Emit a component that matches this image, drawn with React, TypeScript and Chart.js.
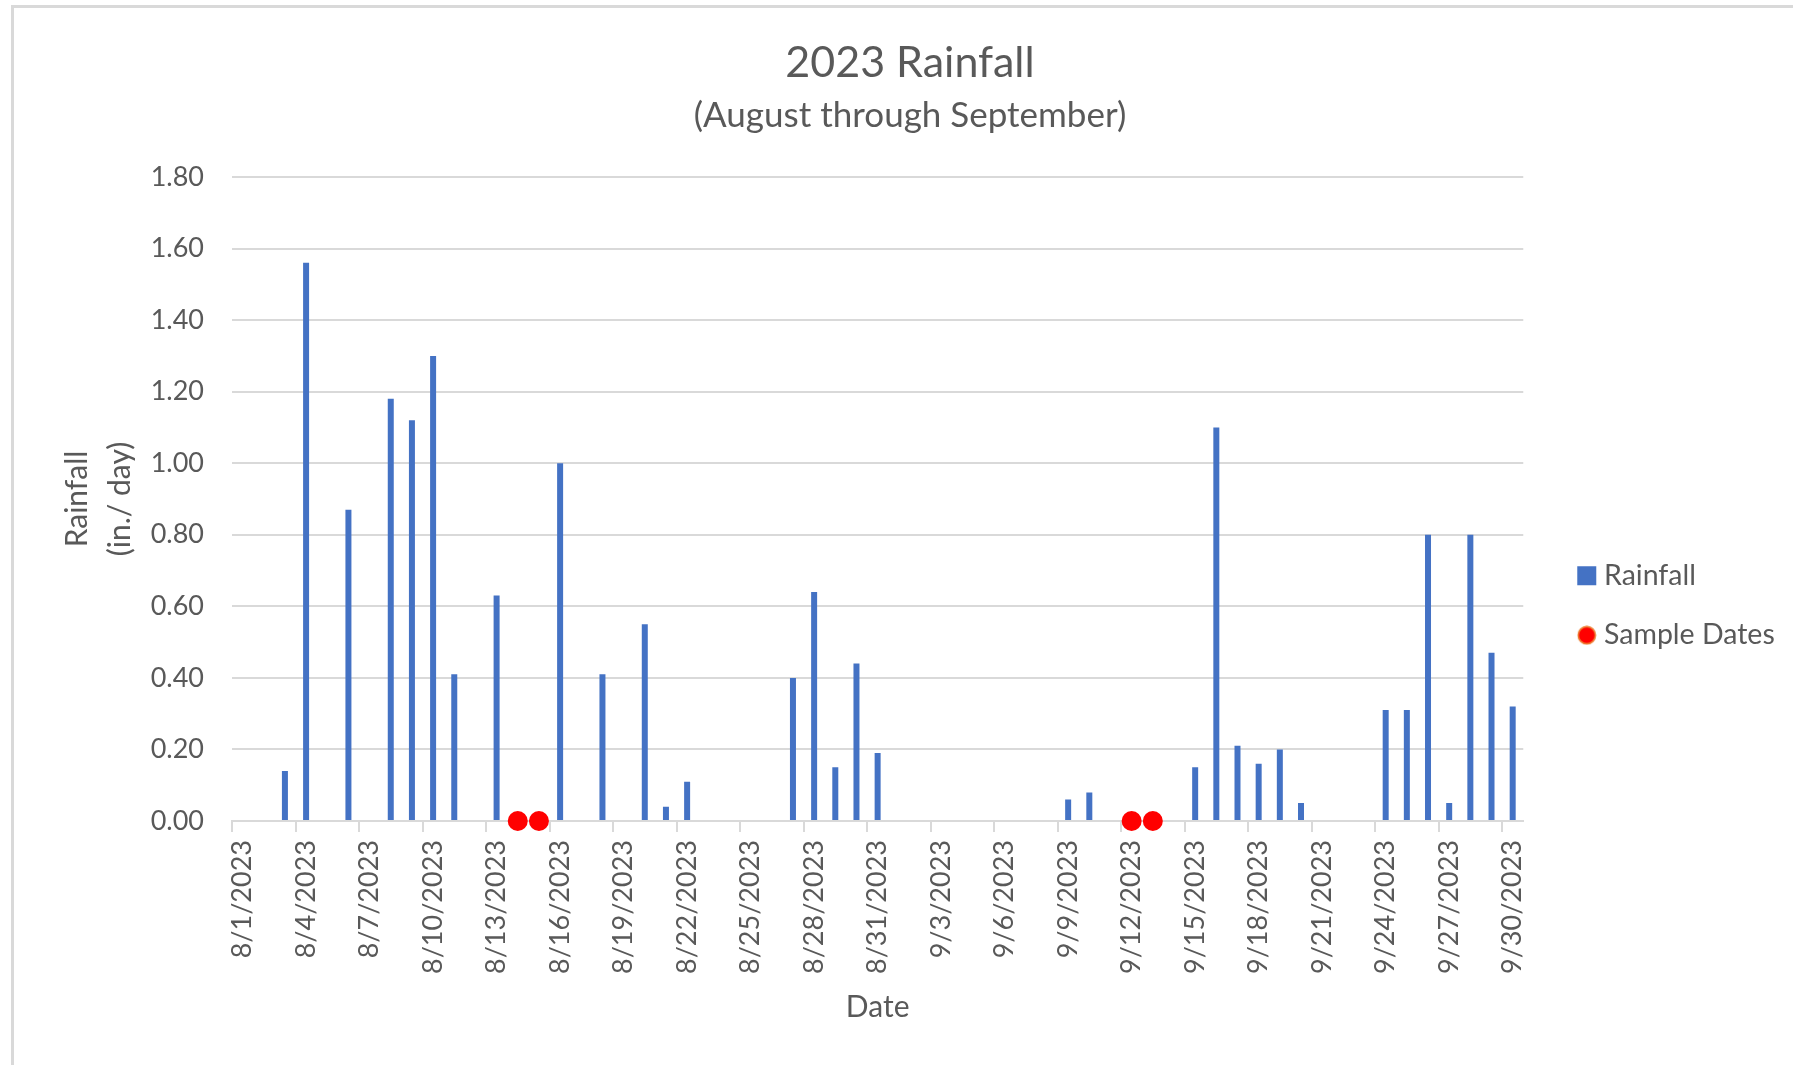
import { useEffect, useRef } from 'react';
import { Chart, registerables } from 'chart.js';

Chart.register(...registerables);

const categories = [
  '8/1/2023', '8/2/2023', '8/3/2023', '8/4/2023', '8/5/2023', '8/6/2023', '8/7/2023', '8/8/2023',
  '8/9/2023', '8/10/2023', '8/11/2023', '8/12/2023', '8/13/2023', '8/14/2023', '8/15/2023', '8/16/2023',
  '8/17/2023', '8/18/2023', '8/19/2023', '8/20/2023', '8/21/2023', '8/22/2023', '8/23/2023', '8/24/2023',
  '8/25/2023', '8/26/2023', '8/27/2023', '8/28/2023', '8/29/2023', '8/30/2023', '8/31/2023',
  '9/1/2023', '9/2/2023', '9/3/2023', '9/4/2023', '9/5/2023', '9/6/2023', '9/7/2023', '9/8/2023',
  '9/9/2023', '9/10/2023', '9/11/2023', '9/12/2023', '9/13/2023', '9/14/2023', '9/15/2023', '9/16/2023',
  '9/17/2023', '9/18/2023', '9/19/2023', '9/20/2023', '9/21/2023', '9/22/2023', '9/23/2023', '9/24/2023',
  '9/25/2023', '9/26/2023', '9/27/2023', '9/28/2023', '9/29/2023', '9/30/2023',
];

// inches per day, one per category
const rainfall = [
  0, 0, 0.14, 1.56, 0, 0.87, 0, 1.18,
  1.12, 1.30, 0.41, 0, 0.63, 0, 0, 1.00,
  0, 0.41, 0, 0.55, 0.04, 0.11, 0, 0,
  0, 0, 0.40, 0.64, 0.15, 0.44, 0.19,
  0, 0, 0, 0, 0, 0, 0, 0,
  0.06, 0.08, 0, 0, 0, 0, 0.15, 1.10,
  0.21, 0.16, 0.20, 0.05, 0, 0, 0, 0.31,
  0.31, 0.80, 0.05, 0.80, 0.47, 0.32,
];

// sample dates shown as markers on the zero line
const sampleDates = [
  null, null, null, null, null, null, null, null,
  null, null, null, null, null, 0, 0, null,
  null, null, null, null, null, null, null, null,
  null, null, null, null, null, null, null,
  null, null, null, null, null, null, null, null,
  null, null, null, 0, 0, null, null, null,
  null, null, null, null, null, null, null, null,
  null, null, null, null, null, null,
];

const seriesNames = ['Rainfall', 'Sample Dates'];

const TEXT = '#595959';
const GRID = '#D9D9D9';
const BAR = '#4472C4';
const DOT = '#FF0000';
const FONT = 'Lato';

export default function App() {
  const ref = useRef<HTMLCanvasElement>(null);

  useEffect(() => {
    const canvas = ref.current;
    if (!canvas) return;

    const marker = document.createElement('canvas');
    marker.width = 20;
    marker.height = 20;
    const mctx = marker.getContext('2d');
    if (mctx) {
      mctx.beginPath();
      mctx.arc(10, 10, 8.6, 0, Math.PI * 2);
      mctx.fillStyle = DOT;
      mctx.fill();
      mctx.lineWidth = 1.6;
      mctx.strokeStyle = '#ED7D31';
      mctx.stroke();
    }

    const chart = new Chart(canvas, {
      type: 'bar',
      data: {
        labels: categories,
        datasets: [
          {
            type: 'bar',
            label: seriesNames[0],
            data: rainfall,
            backgroundColor: BAR,
            borderWidth: 0,
            inflateAmount: 0,
            barThickness: 6,
            order: 1,
            yAxisID: 'y',
          } as any,
          {
            type: 'line',
            label: seriesNames[1],
            data: sampleDates as any,
            showLine: false,
            pointRadius: 10,
            pointHoverRadius: 10,
            pointBackgroundColor: DOT,
            pointBorderColor: DOT,
            pointBorderWidth: 0,
            clip: false as any,
            order: 0,
            yAxisID: 'y',
          },
        ],
      },
      options: {
        responsive: false,
        animation: false,
        devicePixelRatio: 1,
        layout: { padding: { left: 35.25, right: 35.25, top: 0, bottom: 0 } },
        plugins: {
          title: {
            display: true,
            text: '2023 Rainfall',
            color: TEXT,
            font: { family: FONT, size: 43, weight: 'normal', lineHeight: 1.2 },
            padding: { top: 37.4, bottom: 0 },
          },
          subtitle: {
            display: true,
            text: '(August through September)',
            color: TEXT,
            font: { family: FONT, size: 35, weight: 'normal', lineHeight: 1.2 },
            padding: { top: 5.7, bottom: 40.3 },
          },
          legend: {
            position: 'right',
            align: 'start',
            title: {
              display: true,
              text: ' ',
              font: { size: 10, lineHeight: 1 },
              padding: { top: 520.5, bottom: 0 },
            },
            labels: {
              usePointStyle: true,
              boxWidth: 6,
              boxHeight: 19,
              padding: 31,
              color: TEXT,
              font: { family: FONT, size: 28.5 },
              generateLabels: () => [
                {
                  text: seriesNames[0],
                  fillStyle: BAR,
                  strokeStyle: BAR,
                  lineWidth: 0,
                  pointStyle: 'rect',
                  hidden: false,
                  datasetIndex: 0,
                  fontColor: TEXT,
                },
                {
                  text: seriesNames[1],
                  fillStyle: DOT,
                  strokeStyle: DOT,
                  lineWidth: 0,
                  pointStyle: marker as any,
                  hidden: false,
                  datasetIndex: 1,
                  fontColor: TEXT,
                },
              ],
            },
          },
          tooltip: { enabled: false },
        },
        scales: {
          x: {
            type: 'category',
            offset: true,
            grid: {
              offset: true,
              drawOnChartArea: false,
              drawTicks: true,
              tickLength: 11,
              lineWidth: 2,
              color: GRID,
              tickColor: (ctx: any) => (ctx.index % 3 === 0 ? GRID : 'rgba(0,0,0,0)'),
            },
            border: { display: true, color: GRID, width: 2 },
            ticks: {
              autoSkip: false,
              minRotation: 90,
              maxRotation: 90,
              padding: 8,
              color: TEXT,
              font: { family: FONT, size: 27 },
              callback: (_v: any, i: number) => (i % 3 === 0 ? categories[i] : ''),
            },
            title: {
              display: true,
              text: 'Date',
              color: TEXT,
              font: { family: FONT, size: 30, lineHeight: 1.2 },
              padding: { top: 0, bottom: 40 },
            },
            afterFit: (s: any) => {
              s.height = 244;
            },
          },
          y: {
            min: 0,
            max: 1.8,
            ticks: {
              stepSize: 0.2,
              padding: 28,
              color: TEXT,
              font: { family: FONT, size: 27 },
              callback: (v: any) => Number(v).toFixed(2),
            },
            grid: { color: GRID, lineWidth: 2, drawTicks: false },
            border: { display: false },
            title: {
              display: true,
              text: ['Rainfall', '(in./ day)'],
              color: TEXT,
              font: { family: FONT, size: 30, lineHeight: 1.433 },
              padding: { top: 20.25, bottom: 0 },
            },
            afterFit: (s: any) => {
              s.width = 196.75;
            },
          },
          y2: {
            position: 'right',
            display: true,
            ticks: { display: false },
            grid: { display: false },
            border: { display: false },
            afterFit: (s: any) => {
              s.width = 29.5;
            },
          },
        },
      },
    });

    return () => chart.destroy();
  }, []);

  return (
    <div
      style={{
        position: 'fixed',
        left: 0,
        top: 0,
        width: '100vw',
        height: '100vh',
        overflow: 'hidden',
        background: '#ffffff',
      }}
    >
      <div
        style={{
          position: 'absolute',
          left: 11,
          top: 5,
          width: 3000,
          height: 3000,
          borderTop: `3px solid ${GRID}`,
          borderLeft: `3px solid ${GRID}`,
          boxSizing: 'border-box',
        }}
      />
      <canvas
        ref={ref}
        width={1820}
        height={1065}
        style={{ position: 'absolute', left: 0, top: 0, width: 1820, height: 1065 }}
      />
    </div>
  );
}
